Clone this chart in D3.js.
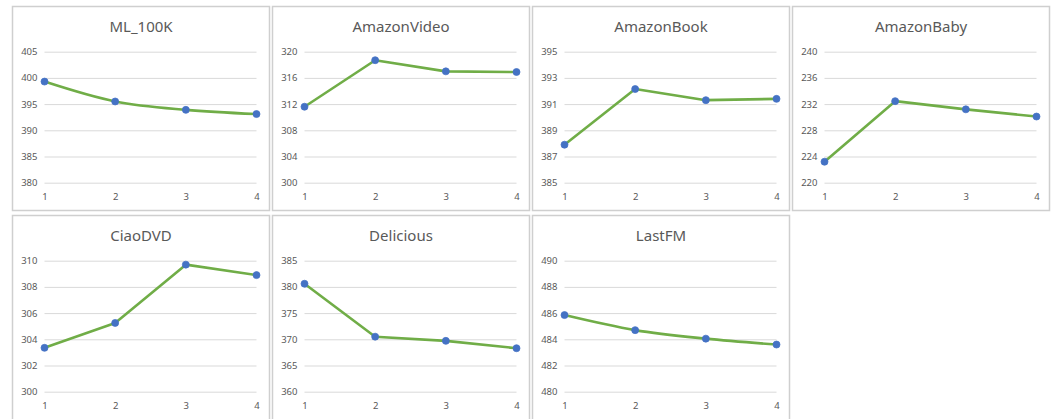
<!DOCTYPE html>
<html>
<head>
<meta charset="utf-8">
<script src="https://cdn.jsdelivr.net/npm/d3@7"></script>
<style>
  html, body { margin: 0; padding: 0; background: #ffffff; }
  svg { display: block; }
</style>
</head>
<body>
<svg id="chart" width="1057" height="419"></svg>
<script>
// ---- data ----
const categories = [1, 2, 3, 4];
const titles = ["ML_100K", "AmazonVideo", "AmazonBook", "AmazonBaby", "CiaoDVD", "Delicious", "LastFM"];
const mlValues        = [399.3, 395.5, 393.9, 393.1];
const videoValues     = [311.6, 318.7, 317.0, 316.9];
const bookValues      = [387.9, 392.15, 391.3, 391.4];
const babyValues      = [223.2, 232.45, 231.2, 230.1];
const ciaoValues      = [303.35, 305.25, 309.7, 308.9];
const deliciousValues = [380.6, 370.5, 369.7, 368.3];
const lastfmValues    = [485.85, 484.7, 484.05, 483.6];
const seriesValues = [mlValues, videoValues, bookValues, babyValues, ciaoValues, deliciousValues, lastfmValues];
// y-axis tick labels per panel
const mlTicks        = [380, 385, 390, 395, 400, 405];
const videoTicks     = [300, 304, 308, 312, 316, 320];
const bookTicks      = [385, 387, 389, 391, 393, 395];
const babyTicks      = [220, 224, 228, 232, 236, 240];
const ciaoTicks      = [300, 302, 304, 306, 308, 310];
const deliciousTicks = [360, 365, 370, 375, 380, 385];
const lastfmTicks    = [480, 482, 484, 486, 488, 490];
const yTicks = [mlTicks, videoTicks, bookTicks, babyTicks, ciaoTicks, deliciousTicks, lastfmTicks];
const smoothFlags = [true, false, false, false, false, false, true];

// ---- layout ----
const panelX = [12, 272, 532, 792];
const panelY = [6, 215];
const panelW = 257;
const panelHs = [204, 215];
const plotLeft = 32.5, plotRight = 244.5, plotTop = 45.7, plotBottom = 176.7;

const svg = d3.select("#chart");
const font = "'Noto Sans', 'Open Sans', sans-serif";

titles.forEach((title, i) => {
  const col = i % 4, row = Math.floor(i / 4);
  const g = svg.append("g").attr("transform", `translate(${panelX[col]},${panelY[row]})`);

  g.append("rect")
    .attr("x", 0.5).attr("y", 0.5)
    .attr("width", panelW).attr("height", panelHs[row])
    .attr("fill", "#fff")
    .attr("stroke", "#cfcfcf").attr("stroke-width", 1.5);

  const ticks = yTicks[i];
  const x = d3.scalePoint().domain(categories).range([plotLeft, plotRight]);
  const y = d3.scaleLinear().domain([ticks[0], ticks[ticks.length - 1]]).range([plotBottom, plotTop]);

  // gridlines + y labels via axis
  const yAxis = d3.axisLeft(y).tickValues(ticks).tickSize(-(plotRight - plotLeft)).tickPadding(7).tickFormat(d3.format("d"));
  const ya = g.append("g").attr("transform", `translate(${plotLeft},0)`).call(yAxis);
  ya.select(".domain").remove();
  ya.selectAll(".tick line").attr("stroke", "#d9d9d9").attr("stroke-width", 1);
  ya.selectAll(".tick text").attr("fill", "#595959").attr("font-size", "9.5px").attr("font-family", font);

  // x labels via axis
  const xAxis = d3.axisBottom(x).tickSize(0).tickPadding(11);
  const xa = g.append("g").attr("transform", `translate(0,${plotBottom})`).call(xAxis);
  xa.select(".domain").remove();
  xa.selectAll(".tick text").attr("fill", "#595959").attr("font-size", "9.5px").attr("font-family", font);

  // title
  g.append("text")
    .attr("x", panelW / 2 + 0.5).attr("y", 25.7)
    .attr("text-anchor", "middle")
    .attr("fill", "#595959")
    .attr("font-size", "15px")
    .attr("font-family", font)
    .text(title);

  const vals = seriesValues[i];
  const pts = categories.map((c, k) => [c, vals[k]]);
  const line = d3.line()
    .x(d => x(d[0])).y(d => y(d[1]))
    .curve(smoothFlags[i] ? d3.curveMonotoneX : d3.curveLinear);

  g.append("path")
    .datum(pts)
    .attr("d", line)
    .attr("fill", "none")
    .attr("stroke", "#70ad47")
    .attr("stroke-width", 2.6)
    .attr("stroke-linejoin", "round")
    .attr("stroke-linecap", "round");

  g.selectAll("circle.pt")
    .data(pts)
    .enter().append("circle")
    .attr("class", "pt")
    .attr("cx", d => x(d[0])).attr("cy", d => y(d[1]))
    .attr("r", 3.5)
    .attr("fill", "#4472c4")
    .attr("stroke", "#4472c4").attr("stroke-width", 0.75);
});
</script>
</body>
</html>
